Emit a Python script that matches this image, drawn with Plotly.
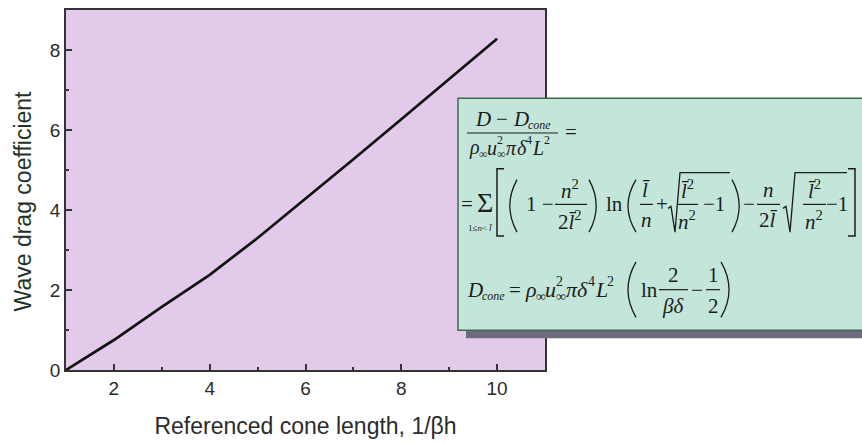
import plotly.graph_objects as go

# Wave drag coefficient vs referenced cone length
cone_length = [1, 2, 3, 4, 5, 6, 7, 8, 9, 10]
drag_coeff = [0.0, 0.75, 1.58, 2.38, 3.30, 4.28, 5.27, 6.27, 7.27, 8.28]

x_ticks = [2, 4, 6, 8, 10]
y_ticks = [0, 2, 4, 6, 8]

W, H = 862, 443
ML, MR, MT, MB = 66, 317, 8, 72
PW = W - ML - MR
PH = H - MT - MB

LAVENDER = "#e3c9ea"
MINT = "#c4e6da"
INK = "#1c1c1c"
SERIF = "Liberation Serif"
SANS = "Liberation Sans"


def fx(x):
    return (x - ML) / PW


def fy(y):
    return (H - MB - y) / PH


def pt(x, y):
    return f"{fx(x):.5f},{fy(y):.5f}"


annotations = []
shapes = []


def txt(x, y, s, size=21, anchor="center", italic=False):
    if italic:
        s = f"<i>{s}</i>"
    annotations.append(dict(
        x=fx(x), y=fy(y), xref="paper", yref="paper", text=s, showarrow=False,
        xanchor=anchor, yanchor="middle", font=dict(family=SERIF, size=size, color=INK),
    ))


def path(d, width=1.3):
    shapes.append(dict(type="path", xref="paper", yref="paper", path=d,
                       line=dict(color=INK, width=width), layer="above"))


def hbar(x0, x1, y, width=1.2):
    path(f"M {pt(x0, y)} L {pt(x1, y)}", width)


def lparen(x0, x1, y0, y1):
    ym = (y0 + y1) / 2
    path(f"M {pt(x1, y0)} Q {pt(x0 - (x1 - x0) * 0.6, ym)} {pt(x1, y1)}")


def rparen(x0, x1, y0, y1):
    ym = (y0 + y1) / 2
    path(f"M {pt(x0, y0)} Q {pt(x1 + (x1 - x0) * 0.6, ym)} {pt(x0, y1)}")


def lbrack(x0, x1, y0, y1):
    path(f"M {pt(x1, y0)} L {pt(x0, y0)} L {pt(x0, y1)} L {pt(x1, y1)}", 1.5)


def rbrack(x0, x1, y0, y1):
    path(f"M {pt(x0, y0)} L {pt(x1, y0)} L {pt(x1, y1)} L {pt(x0, y1)}", 1.5)


def sqrt(x0, x1, ytop, ybot):
    ym = (ytop + ybot) / 2 + 6
    path(f"M {pt(x0, ym)} L {pt(x0 + 3, ym - 2)} L {pt(x0 + 7, ybot)} "
         f"L {pt(x0 + 12, ytop)} L {pt(x1, ytop)}", 1.3)


def frac(xc, x0, x1, yb, num, den, size=21):
    txt(xc, yb - 15, num, size)
    hbar(x0, x1, yb)
    txt(xc, yb + 16, den, size)


def flow(x, y, s, items):
    """Lay out a run of symbols with stacked sub/superscripts.
    items: (glyph, advance_em, sub, sup, script_em)"""
    small = round(s * 0.62)
    for glyph, adv, sub, sup, sadv in items:
        txt(x, y, f"<i>{glyph}</i>", s, anchor="left")
        x += adv * s
        if sub:
            txt(x, y + 0.32 * s, sub, small, anchor="left")
        if sup:
            txt(x, y - 0.38 * s, sup, small, anchor="left")
        x += sadv * s
    return x


def d_cone(x, y, s=21):
    """D with an italic 'cone' subscript."""
    txt(x, y, "<i>D</i>", s, anchor="left")
    txt(x + 0.70 * s, y + 0.3 * s, "<i>cone</i>", round(s * 0.55), anchor="left")


RHO_RUN = [
    ("ρ", 0.50, "∞", None, 0.42),
    ("u", 0.50, "∞", "2", 0.44),
    ("π", 0.52, None, None, 0.0),
    ("δ", 0.48, None, "4", 0.30),
    ("L", 0.58, None, "2", 0.30),
]

LB = "<i>l̄</i>"

# formula panel: drop shadow, then the panel
shapes.append(dict(type="rect", xref="paper", yref="paper",
                   x0=fx(466), x1=fx(875), y0=fy(339), y1=fy(331),
                   fillcolor="#6d6b7c", line=dict(width=0), layer="above"))
shapes.append(dict(type="rect", xref="paper", yref="paper",
                   x0=fx(458), x1=fx(870), y0=fy(331), y1=fy(97),
                   fillcolor=MINT, line=dict(color="#3f6a4c", width=1.5), layer="above"))

# (D - D_cone) / (rho u^2 pi delta^4 L^2) =
txt(473, 118, "<i>D</i>", 21, anchor="left")
txt(502, 118, "−", 21)
d_cone(511, 118)
hbar(467, 558, 132)
flow(467, 147, 20, RHO_RUN)
txt(571, 131, "=", 21)

# = sum [ ... ]
txt(467, 204, "=", 21)
txt(485, 202, "Σ", 28)
txt(489, 228, "1≤<i>n</i>&lt;", 9, anchor="right")
txt(487, 228, LB, 9, anchor="left")
lbrack(497, 504, 168, 236)
lparen(508, 517, 179, 232)
txt(540, 204, "1 −", 21)
frac(570, 555, 587, 204, "<i>n</i><sup>2</sup>", "2" + LB + "<sup>2</sup>")
rparen(589, 598, 179, 232)
txt(614, 204, "ln", 21)
lparen(626, 636, 179, 232)
frac(646, 640, 653, 204, LB, "<i>n</i>")
txt(662, 204, "+", 21)
sqrt(668, 730, 172, 232)
frac(687, 677, 698, 204, LB + "<sup>2</sup>", "<i>n</i><sup>2</sup>")
txt(714, 204, "−1", 21)
rparen(732, 741, 179, 232)
txt(749, 204, "−", 21)
frac(768, 757, 780, 204, "<i>n</i>", "2" + LB)
sqrt(783, 847, 172, 232)
frac(814, 803, 826, 204, LB + "<sup>2</sup>", "<i>n</i><sup>2</sup>")
txt(837, 204, "−1", 21)
rbrack(848, 855, 168, 236)

# D_cone = rho u^2 pi delta^4 L^2 ( ln 2/(beta delta) - 1/2 )
d_cone(465, 290)
txt(515, 290, "=", 21)
flow(523, 290, 22, RHO_RUN)
lparen(626, 636, 262, 318)
txt(649, 290, "ln", 21)
frac(673, 659, 688, 290, "2", "<i>βδ</i>")
txt(697, 290, "−", 21)
frac(713, 706, 720, 290, "1", "2")
rparen(721, 731, 262, 318)

# y axis title, placed as rotated text
annotations.append(dict(
    x=fx(23), y=fy(201), xref="paper", yref="paper", text="Wave drag coefficient",
    showarrow=False, textangle=-90, xanchor="center", yanchor="middle",
    font=dict(family=SANS, size=23, color="#1f3326"),
))

fig = go.Figure(go.Scatter(
    x=cone_length, y=drag_coeff, mode="lines",
    line=dict(color="#111111", width=2.7), showlegend=False,
))

axis_common = dict(
    showgrid=False, zeroline=False, showline=True, mirror=True,
    linecolor="#333333", linewidth=1.5, ticks="inside", ticklen=6,
    tickwidth=1.5, tickcolor="#333333",
    tickfont=dict(family=SANS, size=19, color="#2b2b2b"),
)

fig.update_layout(
    width=W, height=H,
    margin=dict(l=ML, r=MR, t=MT, b=MB),
    paper_bgcolor="white", plot_bgcolor=LAVENDER,
    xaxis=dict(
        range=[1, 11], tickvals=x_ticks,
        minor=dict(ticks="inside", ticklen=3, dtick=1, tick0=1, tickcolor="#333333", showgrid=False),
        title=dict(text="Referenced cone length, 1/βh", standoff=20,
                   font=dict(family=SANS, size=23, color="#2b2b2b")),
        **axis_common,
    ),
    yaxis=dict(
        range=[0, 9], tickvals=y_ticks,
        minor=dict(ticks="inside", ticklen=3, dtick=1, tick0=1, tickcolor="#333333", showgrid=False),
        **axis_common,
    ),
    shapes=shapes,
    annotations=annotations,
)

fig.write_html("out.html")
